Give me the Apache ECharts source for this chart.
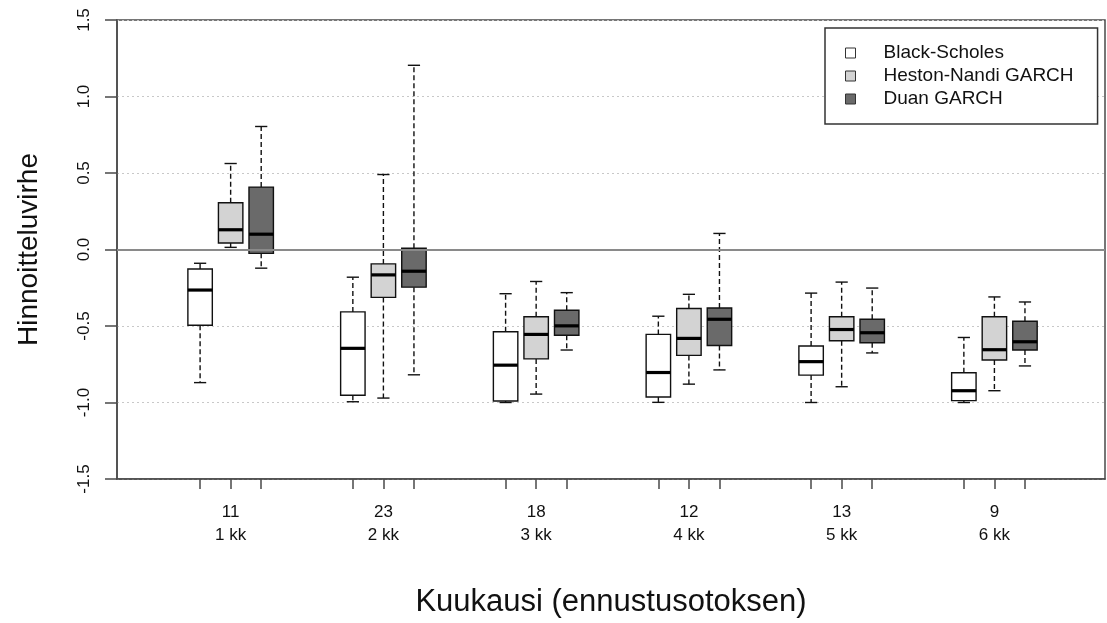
<!DOCTYPE html>
<html><head><meta charset="utf-8">
<script src="https://cdn.jsdelivr.net/npm/echarts@6/dist/echarts.min.js"></script>
<style>html,body{margin:0;padding:0;background:#fff}#c{width:1107px;height:623px}</style>
</head><body><div id="c"></div>
<script>
// ---- data ----
const sampleSizes = ['11', '23', '18', '12', '13', '9'];
const months = ['1 kk', '2 kk', '3 kk', '4 kk', '5 kk', '6 kk'];
const seriesNames = ['Black-Scholes', 'Heston-Nandi GARCH', 'Duan GARCH'];
// each entry: [min, q1, median, q3, max]
const blackScholes = [
  [-0.87, -0.495, -0.265, -0.127, -0.09],
  [-0.995, -0.953, -0.646, -0.408, -0.181],
  [-1.0, -0.99, -0.756, -0.538, -0.289],
  [-0.999, -0.964, -0.804, -0.555, -0.436],
  [-1.0, -0.821, -0.733, -0.631, -0.285],
  [-1.0, -0.988, -0.923, -0.806, -0.575]
];
const hestonNandi = [
  [0.014, 0.042, 0.129, 0.306, 0.562],
  [-0.971, -0.313, -0.166, -0.094, 0.49],
  [-0.945, -0.715, -0.555, -0.44, -0.209],
  [-0.88, -0.692, -0.581, -0.386, -0.293],
  [-0.897, -0.596, -0.523, -0.44, -0.213],
  [-0.923, -0.722, -0.655, -0.44, -0.31]
];
const duanGarch = [
  [-0.122, -0.025, 0.10, 0.408, 0.804],
  [-0.819, -0.246, -0.142, 0.008, 1.204],
  [-0.657, -0.56, -0.499, -0.397, -0.282],
  [-0.787, -0.627, -0.456, -0.382, 0.105],
  [-0.676, -0.609, -0.544, -0.456, -0.252],
  [-0.761, -0.657, -0.603, -0.469, -0.343]
];
const yTickLabels = ['-1.5', '-1.0', '-0.5', '0.0', '0.5', '1.0', '1.5'];

// ---- layout / style ----
const FONT = '"Liberation Sans", Arial, sans-serif';
const fills = ['#ffffff', '#d3d3d3', '#6a6a6a'];
const allData = [blackScholes, hestonNandi, duanGarch];
const groupStep = 5;
function pos(g, s) { return g * groupStep + s + 1; }
const tickPositions = [];
sampleSizes.forEach((_, g) => { for (let s = 0; s < 3; s++) tickPositions.push(pos(g, s)); });
const labelPositions = sampleSizes.map((_, g) => pos(g, 1));

function makeRender(fill) {
  return function (params, api) {
    const x = api.value(0);
    const mn = api.coord([x, api.value(1)]);
    const q1 = api.coord([x, api.value(2)]);
    const md = api.coord([x, api.value(3)]);
    const q3 = api.coord([x, api.value(4)]);
    const mx = api.coord([x, api.value(5)]);
    const halfW = api.size([0.8, 0])[0] / 2;
    const capW = halfW / 2;
    const cx = mn[0];
    const ink = '#111';
    const dash = { stroke: ink, lineWidth: 1.4, lineDash: [5, 3] };
    const solid = { stroke: ink, lineWidth: 1.4 };
    return {
      type: 'group',
      children: [
        { type: 'line', shape: { x1: cx, y1: q3[1], x2: cx, y2: mx[1] }, style: dash },
        { type: 'line', shape: { x1: cx, y1: q1[1], x2: cx, y2: mn[1] }, style: dash },
        { type: 'line', shape: { x1: cx - capW, y1: mx[1], x2: cx + capW, y2: mx[1] }, style: solid },
        { type: 'line', shape: { x1: cx - capW, y1: mn[1], x2: cx + capW, y2: mn[1] }, style: solid },
        { type: 'rect', shape: { x: cx - halfW, y: q3[1], width: halfW * 2, height: q1[1] - q3[1] },
          style: { fill: fill, stroke: ink, lineWidth: 1.4 } },
        { type: 'line', shape: { x1: cx - halfW, y1: md[1], x2: cx + halfW, y2: md[1] },
          style: { stroke: '#000', lineWidth: 3.2 } }
      ]
    };
  };
}

const series = allData.map((arr, s) => {
  const o = {
    name: seriesNames[s],
    type: 'custom',
    renderItem: makeRender(fills[s]),
    itemStyle: { color: fills[s], borderColor: '#333' },
    encode: { x: 0, y: [1, 2, 3, 4, 5] },
    data: arr.map((v, g) => [pos(g, s)].concat(v)),
    z: 3
  };
  if (s === 0) {
    o.markLine = {
      silent: true, symbol: 'none', label: { show: false },
      lineStyle: { color: '#8a8a8a', width: 2, type: 'solid' },
      data: [{ yAxis: 0 }], z: 5
    };
  }
  return o;
});

const chart = echarts.init(document.getElementById('c'), null, { renderer: 'canvas' });
chart.setOption({
  animation: false,
  backgroundColor: '#fff',
  grid: { left: 117, right: 2, top: 20, bottom: 141, show: true, borderColor: '#4a4a4a', borderWidth: 1.5, backgroundColor: 'transparent' },
  xAxis: {
    type: 'value', min: -1.72, max: 30.62,
    name: 'Kuukausi (ennustusotoksen)', nameLocation: 'middle', nameGap: 108,
    nameTextStyle: { fontFamily: FONT, fontSize: 31, color: '#111' },
    axisLine: { show: true, onZero: false, lineStyle: { color: '#4a4a4a', width: 1.5 } },
    axisTick: { show: true, customValues: tickPositions, length: 10, lineStyle: { color: '#4a4a4a', width: 1.5 } },
    axisLabel: {
      show: true, customValues: labelPositions, margin: 22,
      fontFamily: FONT, fontSize: 17, lineHeight: 23, color: '#111',
      formatter: v => { const g = labelPositions.indexOf(v); return g < 0 ? '' : sampleSizes[g] + '\n' + months[g]; }
    },
    splitLine: { show: false }
  },
  yAxis: {
    type: 'value', min: -1.5, max: 1.5, interval: 0.5,
    name: 'Hinnoitteluvirhe', nameLocation: 'middle', nameGap: 74, nameRotate: 90,
    nameTextStyle: { fontFamily: FONT, fontSize: 28, color: '#111' },
    axisLine: { show: true, onZero: false, lineStyle: { color: '#4a4a4a', width: 1.5 } },
    axisTick: { show: true, length: 12, lineStyle: { color: '#4a4a4a', width: 1.5 } },
    axisLabel: {
      rotate: 90, margin: 24, fontFamily: FONT, fontSize: 17, color: '#111',
      formatter: v => yTickLabels[Math.round((v + 1.5) / 0.5)]
    },
    splitLine: { show: true, lineStyle: { color: '#c8c8c8', width: 1, type: [2, 3] } }
  },
  legend: {
    orient: 'vertical', left: 825, top: 28,
    padding: [14, 24, 14, 20],
    borderColor: '#333', borderWidth: 1.5, backgroundColor: '#fff',
    itemWidth: 10, itemHeight: 10, itemGap: 1, icon: 'rect',
    textStyle: { fontFamily: FONT, fontSize: 19, color: '#111', lineHeight: 22, padding: [0, 0, 0, 23] },
    data: seriesNames.map((n, i) => ({ name: n, itemStyle: { color: fills[i], borderColor: '#333', borderWidth: 1 } }))
  },
  series: series
});
</script>
</body></html>
